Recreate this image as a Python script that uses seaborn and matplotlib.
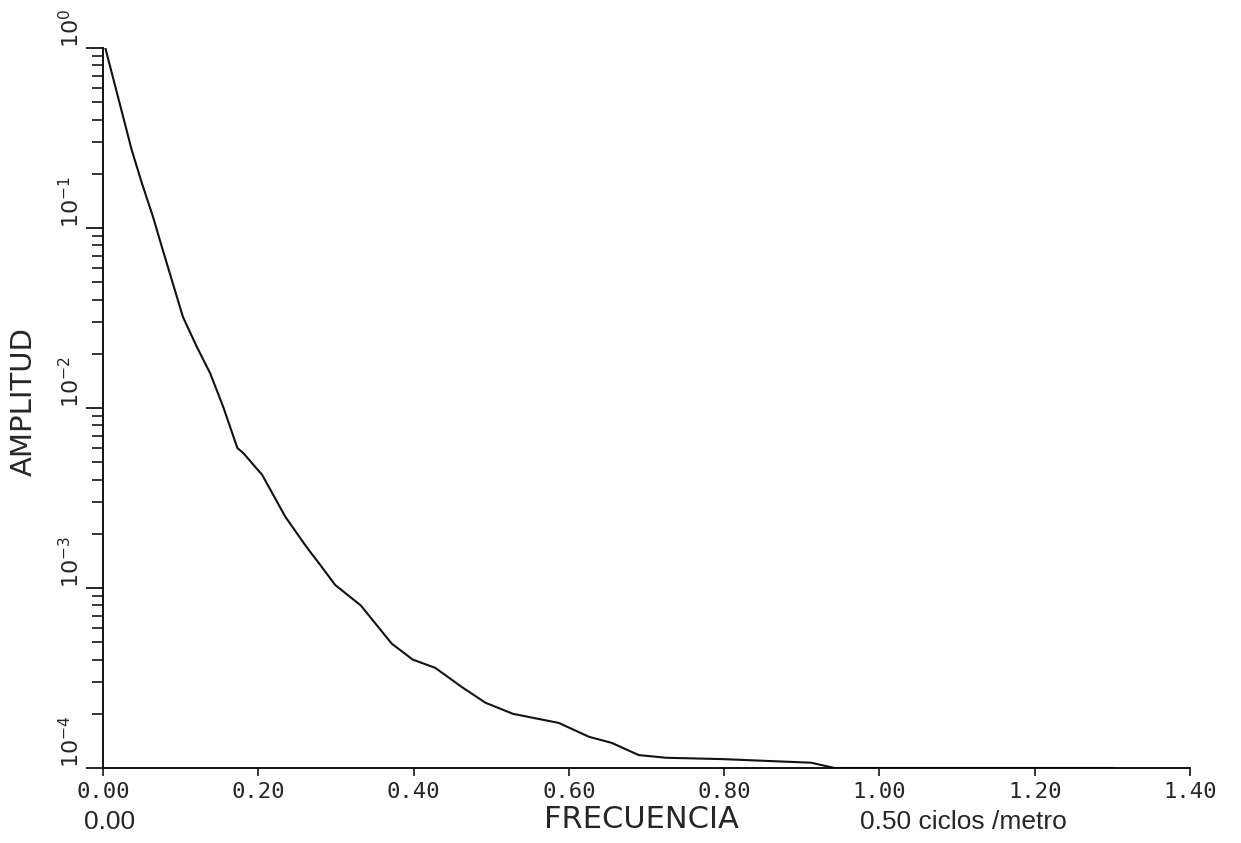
import numpy as np
import pandas as pd
import matplotlib
matplotlib.use("Agg")
import matplotlib.pyplot as plt
import matplotlib.ticker as mticker
from matplotlib.transforms import ScaledTranslation
import seaborn as sns

# ---- data ----
freq = [0.003, 0.026, 0.037, 0.050, 0.0645, 0.077, 0.103, 0.121, 0.138, 0.155,
        0.173, 0.181, 0.205, 0.235, 0.263, 0.280, 0.299, 0.332, 0.372, 0.399,
        0.428, 0.463, 0.493, 0.528, 0.587, 0.626, 0.655, 0.690, 0.725, 0.799,
        0.912, 0.942, 1.000, 1.300]
amp = [1.0, 0.414, 0.271, 0.178, 0.115, 0.0755, 0.032, 0.0218, 0.0156, 0.0101,
       0.0060, 0.0056, 0.00425, 0.00248, 0.00167, 0.00134, 0.00104, 0.00080, 0.00049, 0.00040,
       0.00036, 0.00028, 0.00023, 0.00020, 0.000178, 0.000149, 0.000138, 0.000118, 0.000114, 0.000112,
       0.000107, 0.000100, 0.000100, 0.000100]

x_ticks = [0.0, 0.2, 0.4, 0.6, 0.8, 1.0, 1.2, 1.4]
x_tick_labels = ["0.00", "0.20", "0.40", "0.60", "0.80", "1.00", "1.20", "1.40"]
y_ticks = [1e-4, 1e-3, 1e-2, 1e-1, 1e0]
y_tick_labels = [r"$10^{-4}$", r"$10^{-3}$", r"$10^{-2}$", r"$10^{-1}$", r"$10^{0}$"]

df = pd.DataFrame({"freq": freq, "amp": amp})

sns.set_style("ticks")
plt.rcParams["font.family"] = ["DejaVu Sans"]

W, H = 1241, 843
fig = plt.figure(figsize=(W / 100, H / 100), dpi=100)
x0, x1, yt, yb = 103, 1190, 48, 768
ax = fig.add_axes([x0 / W, 1 - yb / H, (x1 - x0) / W, (yb - yt) / H])

sns.lineplot(data=df, x="freq", y="amp", ax=ax, color="#111111", linewidth=1.5,
             sort=False, estimator=None)
ax.set_yscale("log")
ax.set_xlim(0, 1.4)
ax.set_ylim(1e-4, 1)
sns.despine(ax=ax)
for s in ("left", "bottom"):
    ax.spines[s].set_color("black")
    ax.spines[s].set_linewidth(1.3)

# x ticks
ax.set_xticks(x_ticks)
ax.set_xticklabels(x_tick_labels, family="DejaVu Sans Mono", fontsize=16)
offset = ScaledTranslation(0.14, 0, fig.dpi_scale_trans)
for lab in ax.get_xticklabels():
    lab.set_transform(lab.get_transform() + offset)
ax.tick_params(axis="x", direction="out", length=6, width=1.1, pad=4, color="black")

# y ticks
ax.set_yticks(y_ticks)
ax.set_yticklabels(y_tick_labels, rotation=90, va="bottom", fontsize=16)
ax.yaxis.set_minor_locator(mticker.LogLocator(base=10, subs=np.arange(2, 10)))
ax.yaxis.set_minor_formatter(mticker.NullFormatter())
ax.tick_params(axis="y", which="major", direction="out", length=12, width=1.2, pad=2, color="black")
ax.tick_params(axis="y", which="minor", direction="out", length=8, width=1.1, color="black")

# axis labels
ax.set_ylabel("AMPLITUD", fontsize=21)
ax.yaxis.set_label_coords((38 - x0) / (x1 - x0), (yb - 402) / (yb - yt))
ax.set_xlabel("FRECUENCIA", fontsize=22)
ax.xaxis.set_label_coords((641 - x0) / (x1 - x0), (yb - 805) / (yb - yt))

# secondary scale annotations
fig.text(110 / W, 1 - 822 / H, "0.00", ha="center", va="center",
         family="Liberation Sans", fontsize=19)
fig.text(963 / W, 1 - 822 / H, "0.50 ciclos /metro", ha="center", va="center",
         family="Liberation Sans", fontsize=19)

fig.savefig("out.png", dpi=100)
